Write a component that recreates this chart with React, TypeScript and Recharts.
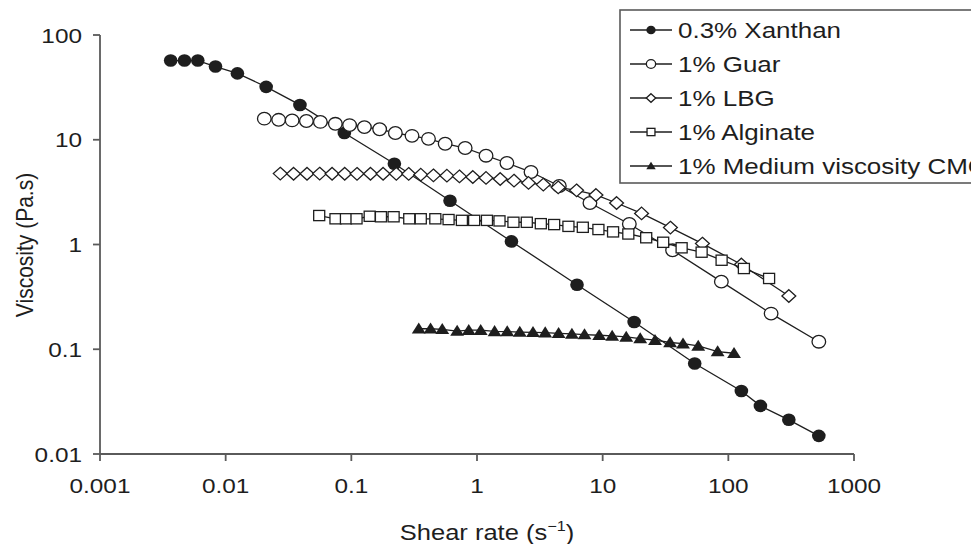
import { ScatterChart, Scatter, XAxis, YAxis } from 'recharts'

const FONT = '"Liberation Sans", Arial, Helvetica, sans-serif'
const INK = '#1e1e1e'
const AXIS = '#5a5a5a'
const STRETCH = 1.16

// shear rate (1/s) and viscosity (Pa.s)
const xanthanRate = [0.00365, 0.0047, 0.006, 0.0083, 0.0124, 0.021, 0.039, 0.088, 0.22, 0.61, 1.88, 6.25, 17.8, 54, 127, 180, 303, 525]
const xanthanVisc = [57, 57, 57, 50, 43, 32, 21.5, 11.6, 5.9, 2.62, 1.07, 0.413, 0.182, 0.073, 0.04, 0.0288, 0.0212, 0.0149]

const guarRate = [0.0203, 0.0264, 0.0338, 0.0439, 0.0567, 0.0746, 0.0968, 0.127, 0.168, 0.224, 0.304, 0.411, 0.558, 0.805, 1.18, 1.73, 2.69, 4.52, 7.92, 16.3, 36, 88, 219, 525]
const guarVisc = [15.9, 15.5, 15.3, 15.1, 14.8, 14.2, 13.8, 13.2, 12.6, 11.6, 10.9, 10.2, 9.16, 8.34, 7.04, 6.0, 4.92, 3.62, 2.49, 1.57, 0.88, 0.442, 0.219, 0.118]

const lbgRate = [0.0272, 0.0347, 0.0444, 0.056, 0.0703, 0.0886, 0.111, 0.142, 0.179, 0.228, 0.286, 0.357, 0.45, 0.576, 0.725, 0.926, 1.18, 1.53, 1.97, 2.57, 3.37, 4.43, 6.2, 8.84, 12.9, 20.4, 34.6, 62.2, 127, 303]
const lbgVisc = [4.75, 4.74, 4.74, 4.75, 4.74, 4.74, 4.73, 4.74, 4.74, 4.73, 4.72, 4.64, 4.57, 4.54, 4.47, 4.41, 4.32, 4.22, 4.07, 3.87, 3.73, 3.51, 3.29, 2.97, 2.49, 1.98, 1.45, 1.02, 0.645, 0.322]

const alginateRate = [0.0555, 0.0748, 0.0906, 0.11, 0.14, 0.172, 0.217, 0.289, 0.357, 0.466, 0.594, 0.758, 0.949, 1.2, 1.51, 1.95, 2.49, 3.22, 4.11, 5.34, 6.95, 9.25, 12.1, 16.0, 22.2, 30.3, 42.5, 61.3, 88.4, 133, 211]
const alginateVisc = [1.89, 1.76, 1.76, 1.76, 1.86, 1.84, 1.84, 1.76, 1.76, 1.76, 1.73, 1.7, 1.7, 1.7, 1.68, 1.63, 1.63, 1.58, 1.55, 1.49, 1.46, 1.39, 1.32, 1.26, 1.16, 1.05, 0.93, 0.845, 0.708, 0.59, 0.474]

const cmcRate = [0.344, 0.427, 0.529, 0.695, 0.86, 1.07, 1.38, 1.74, 2.19, 2.79, 3.49, 4.46, 5.69, 7.17, 9.38, 11.9, 15.4, 19.9, 26.1, 34.4, 43.6, 57.6, 82.2, 111]
const cmcVisc = [0.157, 0.157, 0.155, 0.149, 0.152, 0.152, 0.148, 0.1476, 0.146, 0.145, 0.144, 0.142, 0.14, 0.138, 0.136, 0.134, 0.131, 0.1265, 0.122, 0.116, 0.113, 0.1075, 0.095, 0.0916]

const xTicks = [0.001, 0.01, 0.1, 1, 10, 100, 1000]
const yTicks = [0.01, 0.1, 1, 10, 100]

type Kind = 'dot' | 'circle' | 'diamond' | 'square' | 'triangle'

const zip = (xs: number[], ys: number[]) => xs.map((x, i) => ({ x, y: ys[i] }))

const series: { name: string; kind: Kind; data: { x: number; y: number }[] }[] = [
  { name: '0.3% Xanthan', kind: 'dot', data: zip(xanthanRate, xanthanVisc) },
  { name: '1% Guar', kind: 'circle', data: zip(guarRate, guarVisc) },
  { name: '1% LBG', kind: 'diamond', data: zip(lbgRate, lbgVisc) },
  { name: '1% Alginate', kind: 'square', data: zip(alginateRate, alginateVisc) },
  { name: '1% Medium viscosity CMC', kind: 'triangle', data: zip(cmcRate, cmcVisc) },
]

function marker(kind: Kind, cx: number, cy: number, s: number) {
  const sw = 1.3
  switch (kind) {
    case 'dot':
      return <ellipse cx={cx} cy={cy} rx={s * 1.08} ry={s} fill={INK} />
    case 'circle':
      return <ellipse cx={cx} cy={cy} rx={s * 1.08} ry={s} fill="#fff" stroke={INK} strokeWidth={sw} />
    case 'diamond':
      return (
        <polygon
          points={`${cx},${cy - s} ${cx + s * 1.1},${cy} ${cx},${cy + s} ${cx - s * 1.1},${cy}`}
          fill="#fff"
          stroke={INK}
          strokeWidth={sw}
        />
      )
    case 'square':
      return <rect x={cx - s * 0.92} y={cy - s * 0.85} width={s * 1.84} height={s * 1.7} fill="#fff" stroke={INK} strokeWidth={sw} />
    case 'triangle':
      return <polygon points={`${cx},${cy - s} ${cx + s * 1.1},${cy + s * 0.75} ${cx - s * 1.1},${cy + s * 0.75}`} fill={INK} />
  }
}

function XTick({ x, y, payload }: any) {
  return (
    <g transform={`translate(${x},${y}) scale(${STRETCH},1)`}>
      <text textAnchor="middle" dy={30} fontSize={21} fill={INK} fontFamily={FONT}>
        {String(payload.value)}
      </text>
    </g>
  )
}

function YTick({ x, y, payload }: any) {
  return (
    <g transform={`translate(${x},${y}) scale(${STRETCH},1)`}>
      <text textAnchor="end" dy="0.36em" fontSize={21} fill={INK} fontFamily={FONT}>
        {String(payload.value)}
      </text>
    </g>
  )
}

function Overlay() {
  const rowY = [30, 64, 98, 132, 166]
  return (
    <svg width={971} height={544} style={{ position: 'absolute', left: 0, top: 0, pointerEvents: 'none' }}>
      <text
        transform={`translate(24,245) scale(${STRETCH},1) rotate(-90)`}
        textAnchor="middle"
        dy="0.35em"
        fontSize={21}
        fill={INK}
        fontFamily={FONT}
      >
        Viscosity (Pa.s)
      </text>
      <g transform={`translate(487,540) scale(${STRETCH},1)`}>
        <text textAnchor="middle" fontSize={22} fill={INK} fontFamily={FONT}>
          Shear rate (s
          <tspan fontSize={14} dy={-9}>−1</tspan>
          <tspan dy={9}>)</tspan>
        </text>
      </g>
      <rect x={620} y={10} width={420} height={173} fill="#fff" stroke={AXIS} strokeWidth={1.6} />
      {series.map((s, i) => (
        <g key={s.name}>
          <line x1={630} x2={672} y1={rowY[i]} y2={rowY[i]} stroke={INK} strokeWidth={1.4} />
          {marker(s.kind, 651, rowY[i], 4.3)}
          <g transform={`translate(678,${rowY[i]}) scale(1.18,1)`}>
            <text dy="0.36em" fontSize={22} fill={INK} fontFamily={FONT}>
              {s.name}
            </text>
          </g>
        </g>
      ))}
    </svg>
  )
}

export default function App() {
  return (
    <div style={{ position: 'absolute', left: 0, top: 0, width: 971, height: 544, overflow: 'hidden', background: '#fff' }}>
      <ScatterChart width={971} height={544} margin={{ top: 35, right: 117, bottom: 0, left: 0 }}>
        <XAxis
          dataKey="x"
          type="number"
          scale="log"
          domain={[0.001, 1000]}
          ticks={xTicks}
          allowDataOverflow
          height={90}
          tickSize={7}
          tick={<XTick />}
          stroke={AXIS}
          strokeWidth={1.8}
        />
        <XAxis xAxisId="top" orientation="top" type="number" domain={[0, 1]} height={0} tick={false} tickLine={false} stroke={AXIS} strokeWidth={1.6} />
        <YAxis
          dataKey="y"
          type="number"
          scale="log"
          domain={[0.01, 100]}
          ticks={yTicks}
          allowDataOverflow
          width={100}
          tickSize={7}
          tickMargin={11}
          tick={<YTick />}
          stroke={AXIS}
          strokeWidth={1.8}
        />
        <YAxis yAxisId="right" orientation="right" type="number" domain={[0, 1]} width={0} tick={false} tickLine={false} stroke={AXIS} strokeWidth={1.6} />
        {series.map((s) => (
          <Scatter
            key={s.name}
            name={s.name}
            data={s.data}
            line={{ stroke: INK, strokeWidth: 1.3 }}
            shape={(p: any) => marker(s.kind, p.cx, p.cy, s.kind === 'square' ? 6 : 6.3)}
            legendType="none"
            isAnimationActive={false}
          />
        ))}
      </ScatterChart>
      <Overlay />
    </div>
  )
}
